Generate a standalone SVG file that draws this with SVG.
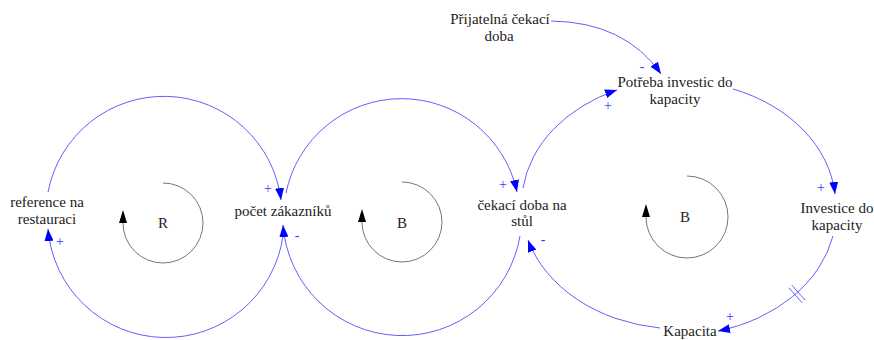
<svg xmlns="http://www.w3.org/2000/svg" width="874" height="340" viewBox="0 0 874 340">
<style>
.lbl{font-family:"Liberation Serif","Tinos","DejaVu Serif","Noto Serif",serif;font-size:15px;fill:#222;text-anchor:middle}
.pol{font-family:"Liberation Serif","Tinos","DejaVu Serif",serif;font-size:14px;fill:#3a3aff;text-anchor:middle}
.link{fill:none;stroke:#6060ff;stroke-width:1}
.loop{fill:none;stroke:#777;stroke-width:1}
</style>
<defs>
<marker id="ah" markerWidth="12" markerHeight="9" viewBox="0 0 12 9" refX="12" refY="4.5" orient="auto" markerUnits="userSpaceOnUse"><path d="M0,0 L12,4.5 L0,9 z" fill="#0000ff"/></marker>
<marker id="lh" markerWidth="13" markerHeight="8" viewBox="0 0 13 8" refX="0" refY="4" orient="auto" markerUnits="userSpaceOnUse"><path d="M0,0 L13,4 L0,8 z" fill="#000"/></marker>
</defs>
<rect width="874" height="340" fill="#fff"/>
<g id="connectors">
<path class="link" d="M48 192 A118 118 0 0 1 281 200" marker-end="url(#ah)"/>
<path class="link" d="M283 236 A118.3 118.3 0 0 1 48 229" marker-end="url(#ah)"/>
<path class="link" d="M286 193 A118 118 0 0 1 517 192" marker-end="url(#ah)"/>
<path class="link" d="M520 236 A119.5 119.5 0 0 1 283 225" marker-end="url(#ah)"/>
<path class="link" d="M523 188 A158 124 0 0 1 617 90" marker-end="url(#ah)"/>
<path class="link" d="M733 89 A158 124 0 0 1 835 194" marker-end="url(#ah)"/>
<path class="link" d="M833 236 A158 124 0 0 1 718 331" marker-end="url(#ah)"/>
<path class="link" d="M660 328 A158 124 0 0 1 528 240" marker-end="url(#ah)"/>
<path class="link" d="M551 21 Q625 22 661 74" marker-end="url(#ah)"/>
<line class="link" x1="791.8" y1="285.2" x2="805.2" y2="300.2"/>
<line class="link" x1="788.8" y1="287.8" x2="802.2" y2="302.8"/>
</g>
<g id="polarities">
<text class="pol" x="268" y="193">+</text>
<text class="pol" x="297" y="240">-</text>
<text class="pol" x="60" y="246">+</text>
<text class="pol" x="503" y="189">+</text>
<text class="pol" x="543" y="244">-</text>
<text class="pol" x="608" y="110">+</text>
<text class="pol" x="642" y="71">-</text>
<text class="pol" x="821" y="192">+</text>
<text class="pol" x="730" y="321">+</text>
</g>
<g id="loop-R">
<path class="loop" d="M163 183 A40 40 0 1 1 123 223" marker-end="url(#lh)"/>
<text class="lbl" x="163" y="228">R</text>
</g>
<g id="loop-B1">
<path class="loop" d="M402 182 A40 40 0 1 1 362 222" marker-end="url(#lh)"/>
<text class="lbl" x="402" y="228">B</text>
</g>
<g id="loop-B2">
<path class="loop" d="M687 176 A41 41 0 1 1 646 217" marker-end="url(#lh)"/>
<text class="lbl" x="685" y="222">B</text>
</g>
<g id="n-reference">
<text class="lbl" x="47" y="207">reference na</text>
<text class="lbl" x="47" y="224">restauraci</text>
</g>
<g id="n-pocet">
<text class="lbl" x="283" y="216">počet zákazníků</text>
</g>
<g id="n-cekaci">
<text class="lbl" x="522" y="210">čekací doba na</text>
<text class="lbl" x="522" y="226">stůl</text>
</g>
<g id="n-prijatelna">
<text class="lbl" x="500" y="24">Přijatelná čekací</text>
<text class="lbl" x="499" y="41">doba</text>
</g>
<g id="n-potreba">
<text class="lbl" x="675" y="87">Potřeba investic do</text>
<text class="lbl" x="675" y="104">kapacity</text>
</g>
<g id="n-investice">
<text class="lbl" x="837" y="213">Investice do</text>
<text class="lbl" x="837" y="230">kapacity</text>
</g>
<g id="n-kapacita">
<text class="lbl" x="690" y="336">Kapacita</text>
</g>
</svg>
